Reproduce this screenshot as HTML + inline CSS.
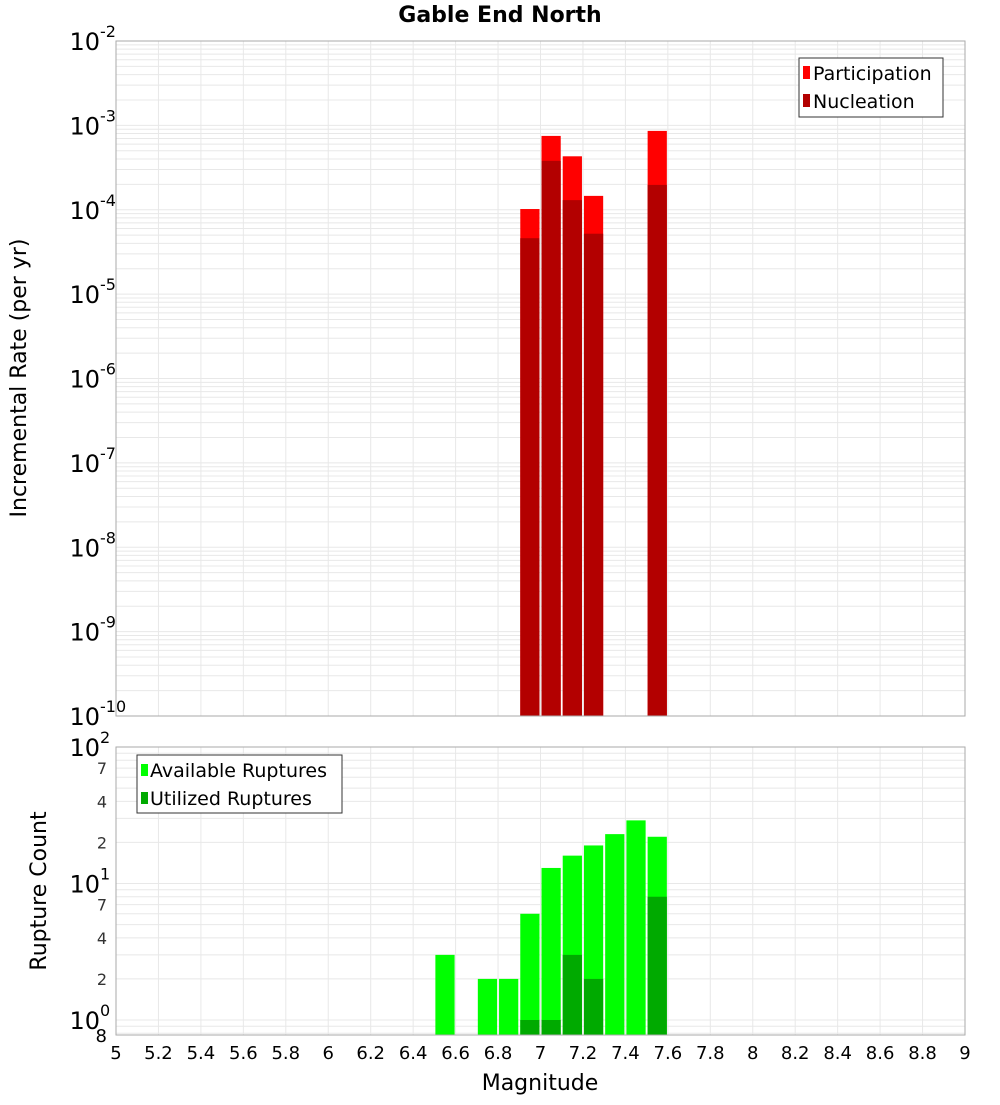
<!DOCTYPE html>
<html><head><meta charset="utf-8"><style>
body{margin:0;background:#fff}
svg text{font-family:"DejaVu Sans","Liberation Sans",sans-serif}
</style></head><body>
<svg id="c" width="1000" height="1100" xmlns="http://www.w3.org/2000/svg">
<text x="500" y="22" text-anchor="middle" font-size="22" font-weight="bold">Gable End North</text>
<text transform="translate(26,378) rotate(-90)" text-anchor="middle" font-size="22">Incremental Rate (per yr)</text>
<text transform="translate(46,891) rotate(-90)" text-anchor="middle" font-size="22">Rupture Count</text>
<text x="540" y="1090" text-anchor="middle" font-size="22">Magnitude</text>
<g id="gtop"></g><g id="gbot"></g><g id="xt"></g>
<g>
<rect x="799" y="58" width="144" height="59" fill="#fff" stroke="#333"/>
<rect x="803" y="66" width="7" height="13" fill="#ff0000"/>
<text x="813" y="80" font-size="19">Participation</text>
<rect x="803" y="94" width="7" height="13" fill="#b30000"/>
<text x="813" y="108" font-size="19">Nucleation</text>
</g>
<g>
<rect x="137" y="755" width="205" height="58" fill="#fff" stroke="#333"/>
<rect x="141" y="764" width="7" height="12" fill="#00ff00"/>
<text x="150" y="777" font-size="19">Available Ruptures</text>
<rect x="141" y="792" width="7" height="12" fill="#00aa00"/>
<text x="150" y="805" font-size="19">Utilized Ruptures</text>
</g>
</svg>
<script>
const redMags=[6.95,7.05,7.15,7.25,7.55];
const participation=[1.02e-4,7.5e-4,4.3e-4,1.46e-4,8.6e-4];
const nucleation=[4.6e-5,3.8e-4,1.3e-4,5.2e-5,1.97e-4];
const greenMags=[6.55,6.75,6.85,6.95,7.05,7.15,7.25,7.35,7.45,7.55];
const available=[3,2,2,6,13,16,19,23,29,22];
const utilized=[0,0,0,1,1,3,2,0,0,8];
const xTicks=[5,5.2,5.4,5.6,5.8,6,6.2,6.4,6.6,6.8,7,7.2,7.4,7.6,7.8,8,8.2,8.4,8.6,8.8,9];
const topExps=[-2,-3,-4,-5,-6,-7,-8,-9,-10];
const botExps=[2,1,0];
const NS="http://www.w3.org/2000/svg";
const L=116,R=965;
const X=m=>L+(m-5)/4*(R-L);
const T0=41,T1=716; const yT=v=>T0+(-2-Math.log10(v))/8*(T1-T0);
const B0=747,DEC=136.5; const yB=v=>B0+(2-Math.log10(v))*DEC; const B1=1035;
function el(p,t,a){const e=document.createElementNS(NS,t);for(const k in a)e.setAttribute(k,a[k]);p.appendChild(e);return e;}
const gTop=document.getElementById('gtop'),gBot=document.getElementById('gbot'),xt=document.getElementById('xt');
function grid(g,y0,y1,ys){
 for(let m=5;m<=9.001;m+=0.2){const l=el(g,'line',{x1:X(m),x2:X(m),y1:y0,y2:y1,stroke:'#e8e8e8'});}
 ys.forEach(y=>{if(y>=y0&&y<=y1){const l=el(g,'line',{x1:L,x2:R,y1:y,y2:y,stroke:'#e8e8e8'});}});
}
let ty=[];for(let e=-10;e<-2;e++)for(let k=1;k<10;k++)ty.push(yT(k*Math.pow(10,e)));ty.push(T0);
grid(gTop,T0,T1,ty);
let by=[];for(let e=-1;e<2;e++)for(let k=1;k<10;k++)by.push(yB(k*Math.pow(10,e)));by.push(B0);
grid(gBot,B0,B1,by);
const bw=X(0.1)-X(0)-2;
redMags.forEach((m,i)=>{
 let r=el(gTop,'rect',{x:X(m)-bw/2,y:yT(participation[i]),width:bw,height:T1-yT(participation[i]),fill:'#ff0000'});
 
 
 r=el(gTop,'rect',{x:X(m)-bw/2,y:yT(nucleation[i]),width:bw,height:T1-yT(nucleation[i]),fill:'#b30000'});
 
 
});
greenMags.forEach((m,i)=>{
 let r=el(gBot,'rect',{x:X(m)-bw/2,y:yB(available[i]),width:bw,height:B1-yB(available[i]),fill:'#00ff00'});
 
 
 if(utilized[i]>0){r=el(gBot,'rect',{x:X(m)-bw/2,y:yB(utilized[i]),width:bw,height:B1-yB(utilized[i]),fill:'#00aa00'});
 
 }
});
let f=el(gTop,'rect',{x:L,y:T0,width:R-L,height:T1-T0,fill:'none',stroke:'#aaa'});


f=el(gBot,'rect',{x:L,y:B0,width:R-L,height:B1-B0,fill:'none',stroke:'#aaa'});


function expLabel(g,y,e,name){
 const t=el(g,'text',{x:100,y:y+9,'font-size':24,'text-anchor':'end'});t.textContent='10';
 
 
 const s=el(g,'text',{x:100,y:y-4,'font-size':16});s.textContent=String(e);
 
 
}
topExps.forEach(e=>expLabel(gTop,yT(Math.pow(10,e)),e,'top-y-tick'));
botExps.forEach(e=>expLabel(gBot,yB(Math.pow(10,e)),e,'bottom-y-tick'));
for(let e=0;e<2;e++)[2,4,7].forEach(k=>{const t=el(gBot,'text',{x:107,y:yB(k*Math.pow(10,e))+6,'font-size':16,'text-anchor':'end',fill:'#333'});t.textContent=String(k);
 
 });
let t8=el(gBot,'text',{x:107,y:1042,'font-size':18,'text-anchor':'end'});t8.textContent='8';


xTicks.forEach(m=>{const t=el(xt,'text',{x:X(m),y:1059,'font-size':18,'text-anchor':'middle'});t.textContent=String(m);
 
 });
</script>
</body></html>
